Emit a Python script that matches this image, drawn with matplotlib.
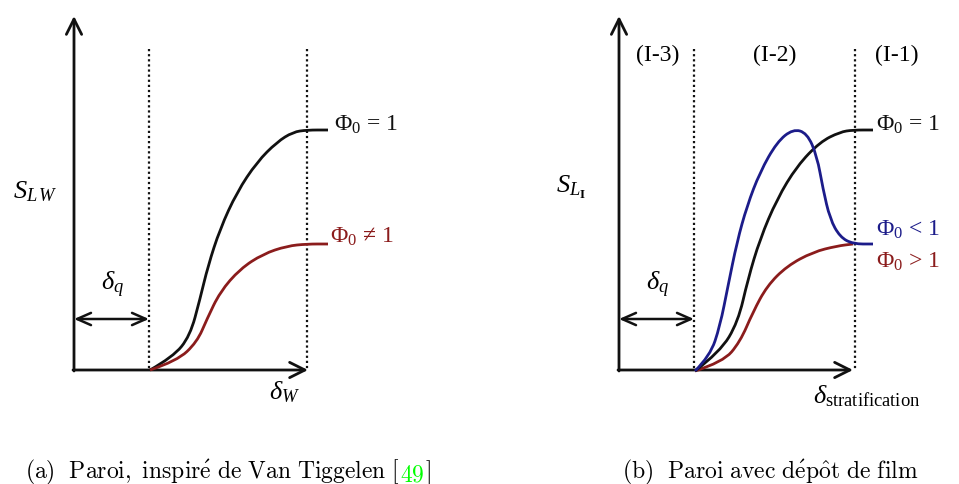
import matplotlib
matplotlib.use('Agg')
import matplotlib.pyplot as plt
from matplotlib.path import Path
from matplotlib.patches import PathPatch

plt.rcParams['font.family'] = ['Liberation Serif', 'DejaVu Serif']
plt.rcParams['mathtext.fontset'] = 'custom'
plt.rcParams['mathtext.rm'] = 'Liberation Serif'
plt.rcParams['mathtext.it'] = 'Liberation Serif:italic'
plt.rcParams['mathtext.bf'] = 'Liberation Serif:bold'

# --- curves (pixel coords, y down) ---
# panel (a)
a_black_x = [150, 173, 190, 200, 208, 220, 237, 257, 277, 293, 307, 328]
a_black_y = [371, 358, 337, 300, 267, 230, 193, 163, 143, 133, 131, 131]
a_red_x = [150, 177, 197, 207, 220, 240, 263, 287, 307, 328]
a_red_y = [371, 362, 343, 320, 293, 270, 255, 247, 245, 245]

# panel (b)
b_blue_x = [695, 710, 720, 728, 737, 747, 760, 777, 793, 807, 817, 823, 830, 840, 853, 873]
b_blue_y = [372, 357, 327, 287, 243, 207, 173, 143, 130, 134, 157, 190, 220, 238, 245, 245]
b_black_x = [695, 720, 738, 748, 760, 777, 797, 820, 840, 853, 873]
b_black_y = [372, 353, 323, 280, 240, 200, 167, 143, 133, 131, 131]
b_red_x = [695, 723, 740, 753, 767, 787, 813, 837, 853]
b_red_y = [372, 363, 343, 313, 287, 267, 253, 247, 245]

BLACK = '#111111'
RED = '#8b1c1c'
BLUE = '#1c1c8a'


def smooth(ax, xs, ys, color):
    # quadratic pieces through the midpoints of the read points
    verts = [(xs[0], ys[0])]
    codes = [Path.MOVETO]
    for i in range(1, len(xs) - 1):
        verts.append((xs[i], ys[i]))
        verts.append(((xs[i] + xs[i + 1]) / 2, (ys[i] + ys[i + 1]) / 2))
        codes += [Path.CURVE3, Path.CURVE3]
    verts.append((xs[-1], ys[-1]))
    codes.append(Path.LINETO)
    ax.add_patch(PathPatch(Path(verts, codes), fc='none', ec=color, lw=2.0,
                           capstyle='butt', zorder=3))


def frame(ax, x0, x1, xd0, xd1, y0=371, ytop=17):
    head = '->,head_length=0.5,head_width=0.25'
    ax.annotate('', xy=(x0, ytop), xytext=(x0, y0 + 1),
                arrowprops=dict(arrowstyle=head, lw=2.0, color=BLACK,
                                mutation_scale=22, shrinkA=0, shrinkB=0))
    ax.annotate('', xy=(x1, y0), xytext=(x0 - 1, y0),
                arrowprops=dict(arrowstyle=head, lw=2.0, color=BLACK,
                                mutation_scale=22, shrinkA=0, shrinkB=0))
    for xd in (xd0, xd1):
        ax.plot([xd, xd], [50, y0], color=BLACK, lw=1.6,
                linestyle=(0, (1.0, 1.3)), zorder=2)
    # delta_q double arrow
    ax.annotate('', xy=(xd0, 320), xytext=(x0, 320),
                arrowprops=dict(arrowstyle='<->,head_length=0.5,head_width=0.22',
                                lw=1.8, color=BLACK, mutation_scale=20,
                                shrinkA=0, shrinkB=0))


fig = plt.figure(figsize=(9.59, 4.85), dpi=100)
ax = fig.add_axes([0, 0, 1, 1])
ax.set_xlim(0, 959)
ax.set_ylim(485, 0)
ax.axis('off')

# Panel (a)
frame(ax, 74, 308, 149, 307)
smooth(ax, a_black_x, a_black_y, BLACK)
smooth(ax, a_red_x, a_red_y, RED)
ax.text(13, 192, r'$S_{L\,W}$', fontsize=19, va='center', ha='left')
ax.text(101, 285, r'$\delta_q$', fontsize=19, va='center', ha='left')
ax.text(269, 392, r'$\delta_W$', fontsize=19, va='center', ha='left')
ax.text(334, 125, r'$\Phi_0$ = 1', fontsize=17, va='center', ha='left', color=BLACK)
ax.text(330, 237, '$\\Phi_0$ \u2260 1', fontsize=17, va='center', ha='left', color=RED)

# Panel (b)
frame(ax, 619, 853, 694, 855)
smooth(ax, b_red_x, b_red_y, RED)
smooth(ax, b_black_x, b_black_y, BLACK)
smooth(ax, b_blue_x, b_blue_y, BLUE)
ax.text(556, 187, r'$S_{L_{\mathbf{I}}}$', fontsize=19, va='center', ha='left')
ax.text(646, 285, r'$\delta_q$', fontsize=19, va='center', ha='left')
ax.text(813, 396, r'$\delta_{\mathrm{stratification}}$', fontsize=19, va='center', ha='left')
for lab, xc in zip(['(I-3)', '(I-2)', '(I-1)'], [658, 775, 897]):
    ax.text(xc, 55, lab, fontsize=17, va='center', ha='center')
ax.text(876, 125, r'$\Phi_0$ = 1', fontsize=17, va='center', ha='left', color=BLACK)
ax.text(876, 230, r'$\Phi_0$ < 1', fontsize=17, va='center', ha='left', color=BLUE)
ax.text(876, 262, r'$\Phi_0$ > 1', fontsize=17, va='center', ha='left', color=RED)

# captions
cap_a = ax.text(25, 478, r'$\mathrm{(a)\ \ Paroi,\ inspir\acute{e}\ de\ Van\ Tiggelen\ [}$',
                fontsize=17, va='baseline', ha='left', math_fontfamily='cm')
cap_n = ax.annotate(r'$\mathrm{49}$', xy=(1, 0), xycoords=cap_a, va='bottom', ha='left',
                    fontsize=17, color='#00ff00', math_fontfamily='cm')
ax.annotate(r'$\mathrm{]}$', xy=(1, 0), xycoords=cap_n, va='bottom', ha='left',
            fontsize=17, math_fontfamily='cm')
ax.text(622, 478, r'$\mathrm{(b)\ \ Paroi\ avec\ d\acute{e}p\hat{o}t\ de\ film}$',
        fontsize=17, va='baseline', ha='left', math_fontfamily='cm')

fig.savefig('out.png', dpi=100)
